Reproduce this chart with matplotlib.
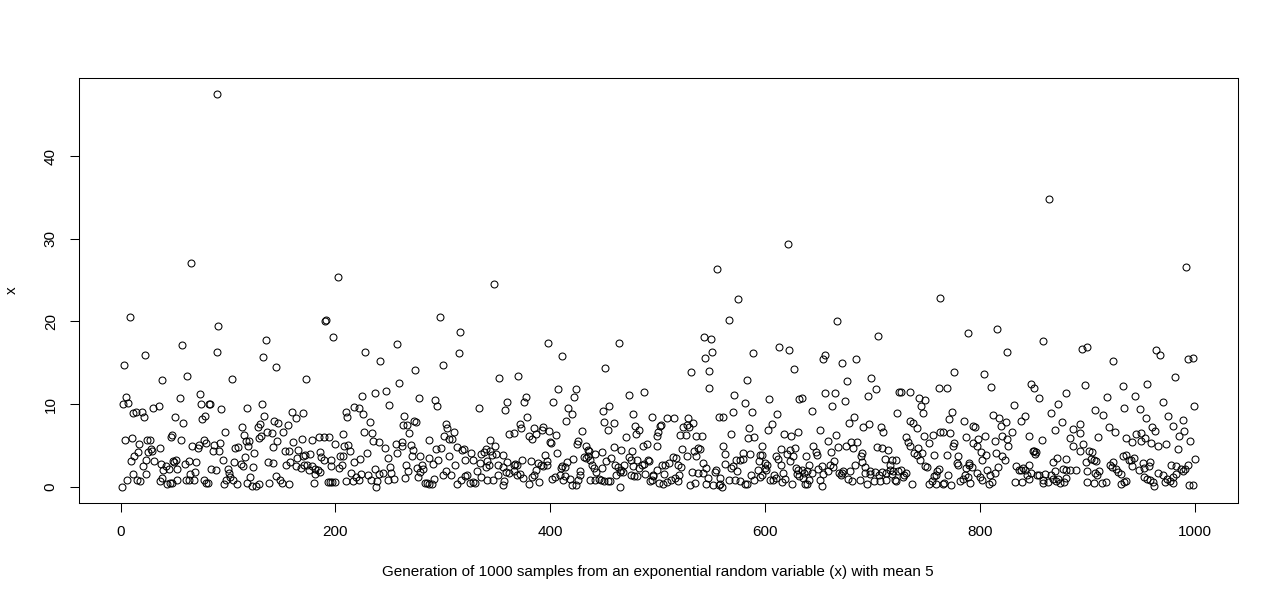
"""
Scatter of 1000 exponential samples (mean 5), R base-graphics look.
Values read off the reference picture, in index order blocks.
"""
import matplotlib
matplotlib.use("Agg")
import matplotlib.pyplot as plt

N_SAMPLES = 1000

# ---- data: sample index / value, one block per slice of the x axis ------
seg_a_idx = [66, 9, 57, 23, 3, 39, 62, 5, 2, 7,
             55, 74, 75, 82, 12, 14, 20, 22, 30, 36,
             51, 58, 76, 79, 4, 11, 17, 25, 27, 48,
             47, 56, 67, 72, 73, 78, 80, 16, 13, 10,
             24, 26, 28, 29, 37, 49, 52, 31, 21, 38,
             42, 40, 45, 50, 60, 64, 70, 53, 65, 69,
             84, 12, 15, 18, 24, 6, 1, 39, 37, 43,
             46, 48, 53, 61, 64, 68, 78, 80]
seg_a_val = [27.1, 20.6, 17.2, 16.0, 14.7, 12.9, 13.4, 10.9, 10.0, 10.1,
             10.8, 11.2, 10.0, 10.0, 8.9, 9.0, 9.0, 8.4, 9.6, 9.8,
             8.5, 7.7, 8.2, 8.6, 5.7, 5.9, 5.2, 5.7, 5.7, 6.3,
             6.0, 5.7, 4.9, 4.7, 5.1, 5.7, 5.3, 4.2, 3.7, 3.1,
             3.3, 4.2, 4.6, 4.4, 4.7, 3.1, 3.3, 3.1, 2.5, 2.8,
             2.5, 2.1, 2.2, 3.0, 2.8, 3.1, 3.0, 2.2, 1.6, 1.8,
             2.2, 1.6, 0.8, 0.7, 1.6, 0.8, 0.0, 1.1, 0.7, 0.3,
             0.5, 0.5, 0.8, 0.8, 0.9, 0.8, 0.9, 0.5]

seg_b_idx = [90, 91, 135, 90, 133, 145, 104, 83, 94, 118,
             132, 134, 160, 163, 97, 113, 115, 117, 120, 128,
             130, 131, 129, 136, 141, 143, 147, 151, 156, 146,
             142, 87, 93, 86, 92, 107, 109, 119, 124, 116,
             106, 112, 95, 114, 123, 137, 142, 153, 157, 161,
             165, 164, 158, 154, 163, 89, 100, 101, 102, 105,
             98, 81, 96, 108, 118, 121, 122, 126, 129, 138,
             145, 148, 150, 157]
seg_b_val = [47.5, 19.4, 17.8, 16.3, 15.7, 14.5, 13.0, 10.0, 9.4, 9.5,
             10.0, 8.6, 9.1, 8.3, 6.6, 7.2, 6.3, 5.6, 5.6, 7.2,
             7.6, 6.2, 5.9, 6.7, 6.5, 8.0, 7.7, 6.6, 7.5, 5.6,
             4.8, 5.1, 5.3, 4.3, 4.4, 4.7, 4.8, 4.9, 4.1, 3.6,
             3.0, 2.8, 3.3, 2.5, 2.4, 3.0, 2.9, 4.4, 4.3, 5.4,
             4.5, 3.5, 3.0, 2.6, 2.5, 2.0, 2.2, 1.7, 1.2, 0.9,
             0.9, 0.5, 0.3, 0.3, 0.5, 1.2, 0.1, 0.1, 0.3, 0.5,
             1.3, 0.8, 0.5, 0.3]

seg_c_idx = [202, 190, 191, 198, 257, 228, 242, 173, 259, 247,
             225, 237, 250, 170, 217, 222, 226, 210, 211, 232,
             169, 178, 185, 189, 194, 207, 200, 227, 234, 235,
             241, 246, 256, 257, 208, 212, 214, 229, 207, 204,
             217, 223, 249, 186, 187, 189, 196, 196, 206, 203,
             172, 176, 170, 171, 174, 178, 181, 175, 184, 186,
             181, 180, 168, 237, 251, 215, 224, 219, 230, 244,
             241, 252, 193, 195, 197, 200, 210, 216, 222, 233,
             239, 238, 249, 255]
seg_c_val = [25.4, 20.1, 20.2, 18.1, 17.3, 16.3, 15.2, 13.0, 12.6, 11.6,
             11.0, 11.4, 9.9, 8.9, 9.7, 9.5, 8.8, 9.0, 8.4, 7.9,
             5.8, 5.7, 6.0, 6.0, 6.0, 6.4, 5.2, 6.7, 6.5, 5.6,
             5.4, 4.7, 5.2, 4.1, 4.9, 5.1, 4.4, 4.1, 3.7, 3.7,
             3.0, 3.4, 3.5, 4.2, 3.6, 3.3, 3.3, 2.5, 2.7, 2.3,
             3.9, 4.0, 3.7, 2.7, 2.6, 2.5, 2.2, 2.0, 2.0, 1.8,
             1.6, 0.5, 2.3, 2.2, 2.4, 1.7, 1.6, 1.2, 1.4, 1.7,
             1.6, 1.7, 0.6, 0.6, 0.6, 0.6, 0.7, 0.7, 0.8, 0.8,
             0.7, 0.0, 0.8, 1.0]

seg_d_idx = [348, 297, 316, 315, 300, 274, 352, 278, 293, 295,
             334, 264, 263, 267, 273, 275, 269, 303, 304, 310,
             301, 306, 309, 287, 262, 262, 270, 272, 294, 298,
             313, 318, 320, 326, 336, 338, 340, 344, 349, 344,
             346, 350, 271, 279, 287, 291, 296, 306, 321, 328,
             335, 341, 343, 266, 276, 281, 282, 279, 268, 311,
             340, 351, 265, 277, 283, 285, 287, 290, 292, 300,
             303, 308, 313, 317, 321, 323, 325, 328, 330, 332,
             336, 341, 347, 351]
seg_d_val = [24.5, 20.6, 18.7, 16.2, 14.8, 14.1, 13.2, 10.7, 10.5, 9.8,
             9.5, 8.6, 7.5, 7.5, 8.0, 7.8, 6.5, 7.6, 7.1, 6.6,
             6.1, 5.8, 5.8, 5.7, 5.4, 4.9, 5.1, 4.5, 4.6, 4.7,
             4.8, 4.5, 4.6, 4.1, 4.0, 4.2, 4.6, 5.7, 5.0, 4.4,
             3.9, 4.0, 3.7, 3.7, 3.5, 2.8, 3.3, 3.8, 3.2, 3.3,
             2.9, 3.1, 2.7, 2.6, 2.3, 2.7, 2.2, 1.8, 1.9, 2.6,
             2.4, 2.7, 1.1, 1.2, 0.5, 0.5, 0.4, 0.3, 1.0, 1.5,
             1.9, 1.4, 0.3, 0.9, 1.3, 1.5, 0.5, 0.6, 0.5, 1.9,
             1.2, 0.8, 0.9, 1.4]

seg_e_idx = [398, 411, 370, 407, 424, 422, 377, 376, 360, 358,
             403, 417, 420, 415, 378, 372, 373, 362, 366, 385,
             380, 383, 387, 393, 392, 399, 405, 400, 401, 430,
             426, 425, 433, 436, 435, 442, 356, 360, 366, 367,
             369, 374, 382, 389, 391, 393, 397, 395, 397, 406,
             416, 421, 431, 433, 435, 437, 439, 441, 443, 356,
             359, 362, 366, 369, 372, 375, 383, 385, 387, 380,
             390, 402, 404, 410, 411, 414, 409, 414, 412, 418,
             420, 424, 426, 428, 428, 437, 442, 445, 357, 356]
seg_e_val = [17.4, 15.8, 13.4, 11.8, 11.8, 10.9, 10.9, 10.3, 10.3, 9.3,
             10.3, 9.5, 8.8, 8.0, 8.4, 7.6, 7.1, 6.4, 6.5, 7.1,
             6.2, 5.8, 6.4, 7.2, 6.9, 6.8, 6.3, 5.4, 5.3, 6.8,
             5.6, 5.2, 4.9, 4.3, 4.5, 4.0, 3.9, 3.0, 2.6, 2.8,
             2.6, 3.2, 3.1, 2.9, 2.7, 2.5, 2.7, 3.9, 3.1, 4.1,
             3.0, 3.4, 3.6, 3.5, 3.7, 3.3, 2.7, 2.3, 1.8, 2.4,
             1.8, 1.7, 1.9, 1.4, 1.6, 1.1, 1.2, 1.5, 2.0, 0.4,
             0.6, 1.0, 1.2, 2.3, 2.5, 2.4, 1.5, 1.3, 0.8, 1.0,
             0.2, 0.2, 0.8, 1.5, 1.9, 0.9, 0.9, 1.0, 0.7, 0.2]

seg_f_idx = [464, 451, 531, 487, 473, 455, 449, 477, 495, 509,
             515, 528, 533, 450, 459, 454, 479, 483, 480, 503,
             502, 500, 499, 471, 524, 527, 529, 521, 526, 536,
             486, 490, 499, 459, 466, 448, 476, 523, 527, 534,
             538, 457, 452, 473, 475, 481, 485, 491, 492, 487,
             504, 507, 511, 514, 517, 519, 522, 536, 448, 460,
             463, 466, 469, 465, 468, 477, 483, 488, 496, 499,
             495, 506, 516, 520, 532, 538, 447, 450, 454, 456,
             461, 475, 478, 481, 493, 496, 501, 505, 509, 512,
             519, 530, 535, 465]
seg_f_val = [17.4, 14.4, 13.9, 11.5, 11.1, 9.8, 9.2, 8.8, 8.5, 8.3,
             8.3, 8.3, 7.7, 7.9, 7.7, 6.9, 7.4, 6.9, 6.4, 7.5,
             7.4, 6.7, 6.1, 6.0, 7.2, 7.5, 7.3, 6.3, 6.3, 6.1,
             5.0, 5.2, 4.9, 4.8, 4.5, 4.2, 4.3, 4.6, 3.8, 4.4,
             4.7, 3.5, 3.1, 3.6, 3.3, 3.3, 2.7, 3.3, 3.1, 2.8,
             2.7, 2.6, 2.9, 3.6, 3.5, 2.6, 2.4, 3.8, 2.3, 2.7,
             2.4, 2.1, 2.7, 1.8, 1.8, 2.5, 2.3, 1.6, 1.5, 2.0,
             0.8, 1.6, 1.1, 1.4, 1.8, 1.7, 0.9, 0.7, 0.7, 0.7,
             1.5, 1.4, 1.3, 1.3, 0.7, 1.3, 0.5, 0.3, 0.6, 0.8,
             0.7, 0.2, 0.5, 0.0]

seg_g_idx = [621, 555, 575, 566, 543, 550, 551, 544, 589, 613,
             622, 548, 627, 583, 548, 571, 581, 604, 632, 557,
             561, 570, 588, 611, 606, 603, 585, 541, 568, 584,
             590, 618, 624, 631, 561, 539, 597, 615, 623, 628,
             563, 542, 545, 579, 586, 573, 577, 579, 595, 597,
             594, 600, 602, 610, 612, 615, 620, 623, 626, 563,
             568, 570, 629, 631, 542, 547, 545, 554, 553, 552,
             557, 558, 560, 558, 566, 572, 577, 581, 583, 574,
             587, 590, 595, 597, 601, 600, 593, 608, 607, 605,
             610, 617, 619, 616, 625, 630, 632]
seg_g_val = [29.4, 26.3, 22.7, 20.2, 18.1, 17.9, 16.3, 15.6, 16.2, 16.9,
             16.5, 14.0, 14.2, 12.9, 12.0, 11.1, 10.1, 10.6, 10.6, 8.5,
             8.5, 9.1, 9.1, 8.8, 7.6, 6.9, 7.1, 6.2, 6.4, 5.9,
             6.0, 6.4, 6.2, 6.7, 5.0, 4.6, 5.0, 4.6, 4.5, 4.7,
             4.0, 2.9, 2.3, 4.1, 4.0, 3.2, 3.3, 3.4, 3.9, 3.9,
             3.1, 2.9, 2.7, 3.8, 3.4, 2.7, 4.0, 3.1, 3.7, 2.8,
             2.3, 2.5, 2.3, 2.0, 1.7, 1.1, 0.3, 2.1, 1.8, 0.2,
             0.2, 0.4, 0.0, 1.1, 0.8, 0.8, 0.7, 0.4, 0.3, 1.9,
             1.4, 0.9, 1.2, 1.4, 2.1, 2.3, 2.1, 1.4, 0.8, 0.9,
             1.1, 1.7, 1.0, 0.6, 0.3, 1.6, 1.3]

seg_h_idx = [667, 705, 654, 656, 672, 685, 676, 699, 703, 696,
             725, 634, 656, 665, 674, 662, 644, 683, 678, 691,
             697, 708, 710, 723, 651, 666, 659, 645, 647, 648,
             638, 661, 668, 675, 680, 686, 682, 690, 689, 704,
             709, 714, 712, 716, 718, 722, 664, 641, 653, 660,
             663, 684, 690, 693, 698, 702, 706, 709, 716, 719,
             724, 634, 636, 639, 644, 649, 654, 659, 669, 672,
             673, 679, 693, 698, 713, 718, 722, 635, 637, 639,
             641, 651, 653, 671, 677, 681, 688, 695, 701, 707,
             713, 721]
seg_h_val = [20.0, 18.2, 15.5, 16.0, 15.0, 15.5, 12.8, 13.2, 11.8, 11.0,
             11.5, 10.7, 11.4, 11.4, 10.4, 9.8, 9.2, 8.5, 7.7, 7.2,
             7.6, 7.2, 6.6, 8.9, 6.9, 6.3, 5.6, 5.0, 4.2, 3.9,
             3.8, 4.2, 4.8, 5.0, 5.4, 5.4, 4.7, 4.1, 3.8, 4.8,
             4.7, 4.5, 3.4, 2.7, 3.3, 3.3, 3.1, 2.6, 2.5, 2.7,
             2.4, 2.7, 3.0, 2.4, 1.9, 1.8, 1.5, 1.8, 2.1, 1.9,
             1.9, 2.1, 1.7, 1.9, 1.7, 2.2, 1.6, 1.9, 1.7, 1.7,
             1.9, 1.9, 1.7, 1.6, 1.7, 1.6, 0.7, 1.1, 0.4, 0.3,
             0.9, 0.9, 0.1, 1.5, 1.0, 0.7, 0.8, 0.4, 0.7, 0.7,
             0.8, 0.9]

seg_i_idx = [763, 789, 816, 825, 776, 804, 810, 762, 769, 727,
             735, 743, 749, 745, 747, 774, 771, 785, 794, 795,
             812, 818, 820, 824, 735, 738, 741, 731, 733, 735,
             748, 756, 753, 763, 766, 772, 776, 775, 787, 798,
             794, 797, 805, 814, 821, 825, 826, 742, 739, 741,
             746, 757, 769, 780, 779, 780, 790, 793, 801, 806,
             802, 815, 821, 823, 817, 744, 749, 751, 727, 729,
             728, 731, 737, 753, 755, 757, 759, 760, 762, 759,
             766, 770, 767, 773, 781, 784, 786, 789, 790, 787,
             791, 797, 800, 802, 807, 809, 811, 808, 814]
seg_i_val = [22.8, 18.6, 19.1, 16.3, 13.9, 13.7, 12.1, 12.0, 12.0, 11.5,
             11.5, 10.7, 10.5, 9.8, 8.9, 9.1, 8.2, 8.0, 7.4, 7.3,
             8.7, 8.3, 7.4, 7.8, 8.0, 7.7, 7.1, 6.0, 5.4, 4.9,
             6.2, 6.3, 5.3, 6.7, 6.7, 6.5, 5.3, 4.9, 6.0, 5.8,
             5.3, 5.0, 6.2, 5.6, 6.2, 5.8, 4.9, 4.7, 4.1, 3.9,
             4.1, 3.9, 3.9, 3.8, 2.9, 2.7, 2.9, 2.4, 4.2, 3.9,
             3.3, 4.1, 3.8, 3.3, 2.4, 3.2, 2.5, 2.4, 2.0, 1.5,
             1.2, 1.7, 0.4, 0.4, 0.7, 1.3, 1.5, 1.9, 2.2, 0.3,
             0.3, 1.5, 0.5, 0.2, 0.7, 1.0, 1.5, 1.2, 2.6, 2.3,
             0.5, 1.7, 1.2, 0.9, 2.0, 1.4, 0.6, 0.3, 1.7]

seg_j_idx = [834, 836, 838, 840, 842, 833, 839, 844, 846, 848,
             846, 849, 850, 852, 851, 853, 855, 859, 861, 859,
             863, 866, 868, 870, 871, 873, 875, 878, 880, 868,
             872, 880, 877, 880, 884, 889, 887, 896, 893, 902,
             904, 903, 906, 908, 899, 900, 907, 909, 911, 900,
             906, 914, 917, 921, 924, 927, 929, 931, 923, 931,
             934, 936, 933, 936, 939, 941, 943, 942, 950, 959,
             966, 973, 984, 942, 948, 953, 957, 958, 952, 953,
             956, 958, 962, 961, 966, 970, 974, 977, 980, 983,
             972, 980, 978, 983, 987, 989, 991, 994, 1000, 995,
             998]
seg_j_val = [2.5, 2.0, 2.1, 2.3, 2.0, 0.6, 0.6, 1.4, 1.0, 1.7,
             2.6, 4.4, 4.3, 4.2, 4.0, 1.4, 1.5, 0.9, 1.6, 0.5,
             0.6, 1.4, 1.0, 1.9, 0.7, 1.0, 0.5, 0.6, 1.1, 3.0,
             3.5, 3.4, 2.2, 2.1, 2.0, 2.1, 4.9, 5.2, 4.4, 4.4,
             4.2, 3.4, 3.2, 3.1, 3.0, 1.9, 1.7, 1.5, 1.9, 0.6,
             0.5, 0.5, 0.6, 2.6, 3.0, 2.2, 1.8, 1.6, 2.4, 0.3,
             0.6, 0.7, 3.7, 3.9, 3.3, 3.2, 3.5, 5.4, 5.5, 5.3,
             4.9, 5.2, 4.6, 2.5, 2.0, 2.3, 2.5, 3.0, 2.9, 1.2,
             1.0, 0.8, 0.1, 0.6, 1.7, 1.5, 1.0, 0.7, 1.2, 1.6,
             0.6, 0.5, 2.6, 2.5, 2.2, 1.9, 2.2, 2.6, 3.4, 0.2,
             0.2]

seg_k_idx = [864, 992, 859, 895, 900, 964, 968, 994, 998, 924,
             982, 848, 850, 898, 933, 956, 999, 949, 934, 907,
             832, 873, 855, 989, 955, 893, 915, 876, 842, 838,
             945, 950, 954, 963, 980, 887, 893, 870, 884, 858,
             926, 936, 985, 996, 880, 918, 944, 970, 960, 975,
             830, 846, 866, 910, 920, 990]
seg_k_val = [34.8, 26.6, 17.7, 16.7, 16.9, 16.6, 15.9, 15.5, 15.6, 15.2,
             13.3, 12.4, 12.0, 12.3, 12.2, 12.5, 9.8, 9.4, 9.5, 9.3,
             9.9, 10.0, 10.8, 8.1, 8.3, 7.6, 8.7, 7.8, 8.6, 8.0,
             6.4, 6.5, 5.9, 6.8, 7.4, 7.0, 6.5, 6.9, 5.9, 5.7,
             6.6, 5.9, 6.1, 5.6, 11.3, 10.9, 11.0, 10.3, 7.2, 8.6,
             6.6, 6.2, 8.9, 6.0, 7.3, 6.8]

X_LABEL = "Generation of 1000 samples from an exponential random variable (x) with mean 5"
Y_LABEL = "x"
X_TICKS = [0, 200, 400, 600, 800, 1000]
Y_TICKS = [0, 10, 20, 30, 40]

index = (seg_a_idx + seg_b_idx + seg_c_idx + seg_d_idx + seg_e_idx + seg_f_idx
         + seg_g_idx + seg_h_idx + seg_i_idx + seg_j_idx + seg_k_idx)
values = (seg_a_val + seg_b_val + seg_c_val + seg_d_val + seg_e_val + seg_f_val
          + seg_g_val + seg_h_val + seg_i_val + seg_j_val + seg_k_val)

plt.rcParams["font.family"] = ["Liberation Sans", "DejaVu Sans"]
plt.rcParams["font.size"] = 11

fig = plt.figure(figsize=(12.79, 6.01), dpi=100)
ax = fig.add_axes([0.0615, 0.1636, 0.9062, 0.7062])

ax.plot(index, values, linestyle="none", marker="o", markersize=5.0,
        markerfacecolor="none", markeredgecolor="black", markeredgewidth=0.75)

# R style 4% padding around the data range
x_lo, x_hi = 1, N_SAMPLES
pad_x = 0.04 * (x_hi - x_lo)
ax.set_xlim(x_lo - pad_x, x_hi + pad_x)
y_lo, y_hi = min(values), max(values)
pad_y = 0.04 * (y_hi - y_lo)
ax.set_ylim(y_lo - pad_y, y_hi + pad_y)

ax.set_xticks(X_TICKS)
ax.set_yticks(Y_TICKS)
ax.tick_params(axis="both", direction="out", length=6.5, width=0.75, colors="black")
ax.tick_params(axis="x", pad=9.5)
ax.tick_params(axis="y", pad=8.5)
for lab in ax.get_yticklabels():
    lab.set_rotation(90)
    lab.set_va("center")

for spine in ax.spines.values():
    spine.set_linewidth(0.75)
    spine.set_color("black")

ax.set_xlabel(X_LABEL, va="center")
ax.xaxis.set_label_coords(0.5, -0.163)
ax.set_ylabel(Y_LABEL, va="center", ha="center")
ax.yaxis.set_label_coords(-0.0576, 0.5)

fig.savefig("out.png", dpi=100, facecolor="white")
